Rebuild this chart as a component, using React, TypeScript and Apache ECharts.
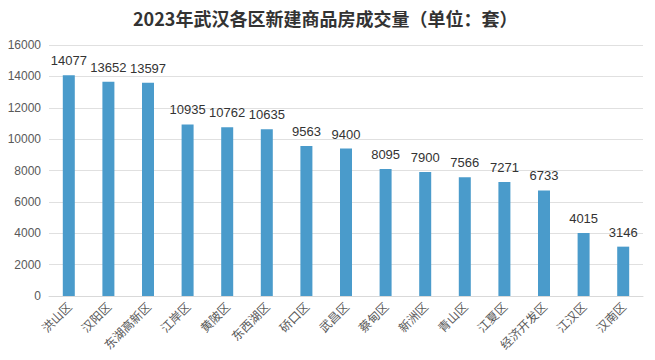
import React, { useEffect, useRef } from "react";
import * as echarts from "echarts";

const categories = ["洪山区", "汉阳区", "东湖高新区", "江岸区", "黄陂区", "东西湖区", "硚口区", "武昌区", "蔡甸区", "新洲区", "青山区", "江夏区", "经济开发区", "江汉区", "汉南区"];
const values = [14077, 13652, 13597, 10935, 10762, 10635, 9563, 9400, 8095, 7900, 7566, 7271, 6733, 4015, 3146];
const yTicks = { min: 0, max: 16000, interval: 2000 };

export default function App() {
  const ref = useRef<HTMLDivElement>(null);
  useEffect(() => {
    const chart = echarts.init(ref.current!, null, { renderer: "svg" });
    chart.setOption({
      animation: false,
      title: {
        text: "2023年武汉各区新建商品房成交量（单位：套）",
        left: 128,
        top: 4,
        textStyle: { fontSize: 18, fontWeight: "bold", color: "#333", fontFamily: "Noto Sans CJK SC" },
      },
      grid: { left: 49, right: 12, top: 45, bottom: 64 },
      xAxis: {
        type: "category",
        data: categories,
        axisLine: { lineStyle: { color: "#d9d9d9" } },
        axisTick: { show: false },
        axisLabel: { rotate: 45, fontSize: 12, color: "#595959", interval: 0, margin: 8, fontFamily: "Noto Sans CJK SC" },
      },
      yAxis: {
        type: "value",
        min: yTicks.min,
        max: yTicks.max,
        interval: yTicks.interval,
        axisLine: { show: false },
        axisTick: { show: false },
        splitLine: { lineStyle: { color: "#e0e0e0" } },
        axisLabel: { fontSize: 12, color: "#595959", margin: 8, fontFamily: "Arial, Liberation Sans", formatter: (v: number) => String(v) },
      },
      series: [
        {
          type: "bar",
          data: values,
          barWidth: 12,
          itemStyle: { color: "#4a9bcb" },
          label: { show: true, position: "top", fontSize: 13, color: "#333", distance: 8, fontFamily: "Arial, Liberation Sans" },
        },
      ],
    });
    return () => chart.dispose();
  }, []);
  return <div ref={ref} style={{ width: 655, height: 360, position: "absolute", left: 0, top: 0 }} />;
}
